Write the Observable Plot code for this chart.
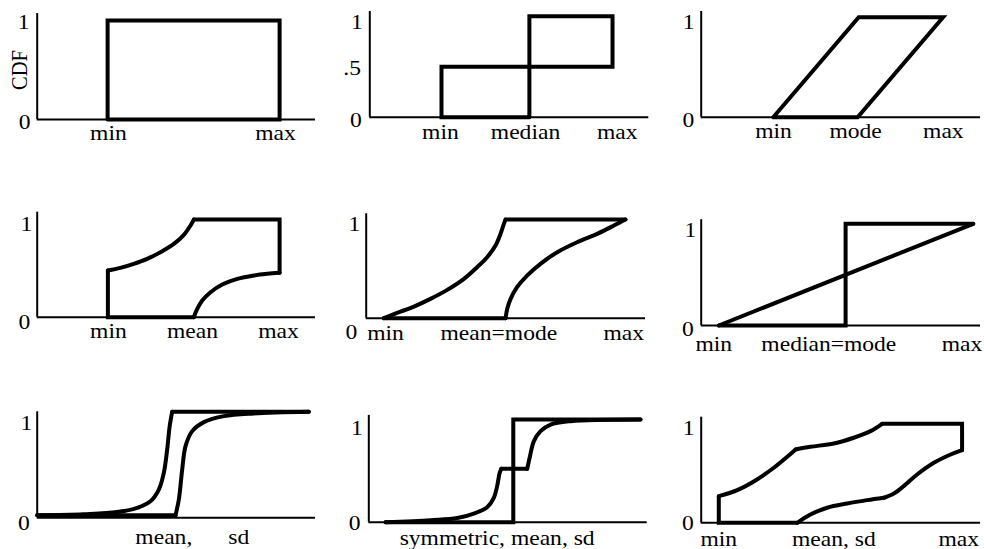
<!DOCTYPE html>
<html><head><meta charset="utf-8">
<script src="https://cdn.jsdelivr.net/npm/d3@7"></script>
<script src="https://cdn.jsdelivr.net/npm/@observablehq/plot@0.6"></script>
<style>
html,body{margin:0;padding:0;background:#fff;}
#chart{position:relative;width:984px;height:549px;overflow:hidden;background:#fff;}
#chart svg{position:absolute;left:0;top:0;}
#chart svg text{font-family:'Liberation Serif','Times New Roman',Times,serif !important;font-size:20.5px !important;}
</style></head><body><div id="chart"></div>
<script>
// ---------- data (x in % of each panel's axis length, y = CDF) ----------
const yTicks01 = [0, 1];
const yLabels01 = ["0", "1"];
const yTicks2 = [0, 0.5, 1];
const yLabels2 = ["0", ".5", "1"];

// Panel 1: min, max
const p1XTicks = [25.6, 85.6];
const p1XLabels = ["min", "max"];
const p1Straight = [[[25.3,0],[25.3,1],[87.1,1],[87.1,0],[25.3,0]]];
const p1Smooth = [];

// Panel 2: min, median, max
const p2XTicks = [25.3, 55.8, 88.7];
const p2XLabels = ["min", "median", "max"];
const p2Straight = [[[57.2,0],[25.7,0],[25.7,0.5],[87.0,0.5],[87.0,1],[57.2,1],[57.2,0]]];
const p2Smooth = [];

// Panel 3: min, mode, max
const p3XTicks = [25.9, 55.3, 86.7];
const p3XLabels = ["min", "mode", "max"];
const p3Straight = [[[25.8,0],[56.4,1],[86.6,1],[56.0,0],[25.8,0]]];
const p3Smooth = [];

// Panel 4: min, mean, max
const p4XTicks = [25.6, 55.8, 86.7];
const p4XLabels = ["min", "mean", "max"];
const p4Straight = [[[56.3,0],[25.4,0],[25.4,0.478]], [[56.3,1],[87.1,1],[87.1,0.454]]];
const p4Upper = [[25.4,0.478],[29.9,0.505],[34.7,0.546],[39.5,0.597],[44.3,0.666],[49.1,0.751],[52.7,0.843],[55.1,0.939],[56.3,1]];
const p4Lower = [[56.3,0],[57.5,0.085],[59.3,0.171],[62.3,0.256],[66.5,0.334],[71.9,0.392],[77.9,0.427],[82.7,0.444],[87.1,0.454]];
const p4Smooth = [p4Upper, p4Lower];

// Panel 5: min, mean=mode, max
const p5XTicks = [6.9, 47.5, 92.2];
const p5XLabels = ["min", "mean=mode", "max"];
const p5Straight = [[[6.3,0],[49.9,0]], [[49.9,1],[92.8,1]]];
const p5Upper = [[6.3,0],[11.1,0.054],[17.1,0.118],[23.0,0.196],[29.0,0.287],[35.0,0.399],[39.7,0.517],[43.3,0.618],[46.3,0.736],[48.1,0.855],[49.3,0.956],[49.9,1]];
const p5Lower = [[49.9,0],[50.5,0.095],[51.7,0.196],[54.0,0.314],[57.6,0.432],[62.4,0.551],[68.4,0.669],[75.5,0.770],[82.7,0.855],[88.7,0.939],[92.8,1]];
const p5Smooth = [p5Upper, p5Lower];

// Panel 6: min, median=mode, max
const p6XTicks = [4.5, 45.7, 93.4];
const p6XLabels = ["min", "median=mode", "max"];
const p6Straight = [[[6.3,0],[51.7,0],[51.7,1],[97.4,1]], [[6.3,0],[97.4,1]]];
const p6Smooth = [];

// Panel 7: mean, sd
const p7XTicks = [45.5, 72.4];
const p7XLabels = ["mean,", "sd"];
const p7Straight = [[[0,0],[49.7,0]], [[48.5,1],[97.6,1]]];
const p7Upper = [[0,0],[16.7,0.01],[28.7,0.03],[35.9,0.071],[40.7,0.135],[43.7,0.248],[45.5,0.41],[46.7,0.635],[47.6,0.861],[48.5,1]];
const p7Lower = [[49.7,0],[50.9,0.152],[52.1,0.442],[53.3,0.668],[55.7,0.813],[59.9,0.9],[67.1,0.958],[77.8,0.984],[97.6,1]];
const p7Smooth = [p7Upper, p7Lower];

// Panel 8: symmetric, mean, sd
const p8XTicks = [46.1];
const p8XLabels = ["symmetric, mean, sd"];
const p8Straight = [[[6.0,0],[51.9,0],[51.9,1],[97.6,1]], [[47.6,0.52],[56.9,0.52]]];
const p8Left = [[6.0,0],[22.2,0.02],[31.8,0.04],[37.7,0.084],[42.5,0.146],[44.9,0.237],[46.1,0.351],[47.0,0.48],[47.6,0.52]];
const p8Right = [[56.9,0.52],[57.9,0.643],[59.3,0.789],[61.7,0.886],[65.3,0.951],[72.5,0.984],[97.6,1]];
const p8Smooth = [p8Left, p8Right];

// Panel 9: min, mean, sd, max
const p9XTicks = [6.3, 47.5, 92.2];
const p9XLabels = ["min", "mean, sd", "max"];
const p9Straight = [[[34.4,0],[6.3,0],[6.3,0.269]], [[64.8,1],[93.4,1],[93.4,0.734]]];
const p9UpperA = [[6.3,0.269],[12.9,0.33],[20.0,0.438],[26.0,0.556],[30.8,0.667],[33.8,0.741]];
const p9UpperB = [[33.8,0.741],[39.1,0.768],[47.5,0.801],[54.6,0.859],[60.6,0.926],[64.8,1]];
const p9LowerA = [[93.4,0.734],[89.3,0.69],[83.3,0.606],[77.3,0.488],[72.5,0.37],[69.0,0.296],[65.4,0.253]];
const p9LowerB = [[65.4,0.253],[59.4,0.229],[52.3,0.195],[45.1,0.152],[39.1,0.084],[34.4,0]];
const p9Smooth = [p9UpperA, p9UpperB, p9LowerA, p9LowerB];

// ---------- layout ----------
const panels = [
  {L:{ox:36.7,ex:315,y1:20,y0:119,top:1.07,labelDy:20,yDx:[-6.7,-7.7],yDy:[9.3,8.3]}, straight:p1Straight, smooth:p1Smooth, xTicks:p1XTicks, xLabels:p1XLabels, yTicks:yTicks01, yLabels:yLabels01, cdf:true},
  {L:{ox:369.3,ex:648.3,y1:15.7,y0:116.7,top:1.047,labelDy:21.6,yDx:[-8,-8.8,-6.9],yDy:[10,7.8,12.6]}, straight:p2Straight, smooth:p2Smooth, xTicks:p2XTicks, xLabels:p2XLabels, yTicks:yTicks2, yLabels:yLabels2},
  {L:{ox:700.7,ex:980,y1:16.7,y0:116.7,top:1.057,labelDy:21,yDx:[-7,-6.7],yDy:[10,11.6]}, straight:p3Straight, smooth:p3Smooth, xTicks:p3XTicks, xLabels:p3XLabels, yTicks:yTicks01, yLabels:yLabels01},
  {L:{ox:36.7,ex:315,y1:219,y0:316.7,top:1.075,labelDy:21,yDx:[-7,-5],yDy:[11.6,11]}, straight:p4Straight, smooth:p4Smooth, xTicks:p4XTicks, xLabels:p4XLabels, yTicks:yTicks01, yLabels:yLabels01},
  {L:{ox:365.7,ex:645,y1:219,y0:317.7,top:1.058,labelDy:21.6,yDx:[-9,-6],yDy:[20.6,11]}, straight:p5Straight, smooth:p5Smooth, xTicks:p5XTicks, xLabels:p5XLabels, yTicks:yTicks01, yLabels:yLabels01},
  {L:{ox:700.7,ex:980,y1:223.3,y0:325,top:1.04,labelDy:25,yDx:[-7.4,-5],yDy:[10,13.4]}, straight:p6Straight, smooth:p6Smooth, xTicks:p6XTicks, xLabels:p6XLabels, yTicks:yTicks01, yLabels:yLabels01},
  {L:{ox:36.7,ex:315,y1:411.3,y0:514.7,top:1.0,axisDy:2.6,labelDy:28.3,yDx:[-7.4,-5],yDy:[14.3,17.7]}, straight:p7Straight, smooth:p7Smooth, xTicks:p7XTicks, xLabels:p7XLabels, yTicks:yTicks01, yLabels:yLabels01},
  {L:{ox:368.3,ex:646.7,y1:419,y0:521.7,top:1.04,labelDy:22.3,yDx:[-8.3,-6],yDy:[7.3,15]}, straight:p8Straight, smooth:p8Smooth, xTicks:p8XTicks, xLabels:p8XLabels, yTicks:yTicks01, yLabels:yLabels01},
  {L:{ox:700.7,ex:980,y1:423.3,y0:522.3,top:1.067,labelDy:22.7,yDx:[-7.4,-6.6],yDy:[6.7,10.7]}, straight:p9Straight, smooth:p9Smooth, xTicks:p9XTicks, xLabels:p9XLabels, yTicks:yTicks01, yLabels:yLabels01}
];

const W = 984, H = 549;
const FS = 20.5, SX = 1.15;
const FONT = "Liberation Serif, Times New Roman, Times, serif";
const host = document.getElementById("chart");
const rows = paths => paths.flatMap((pts, i) => pts.map(([x, y]) => ({x, y, z: i})));

for (const p of panels) {
  const L = p.L;
  const lineOpts = {x: "x", y: "y", z: "z", stroke: "black", strokeWidth: 4, strokeLinejoin: "miter", strokeMiterlimit: 10, strokeLinecap: "round"};
  const marks = [
    Plot.ruleY([0], {stroke: "black", strokeWidth: 2, dy: L.axisDy || 0}),
    Plot.ruleX([0], {y1: 0, y2: L.top, stroke: "black", strokeWidth: 2}),
    Plot.line(rows(p.straight), {...lineOpts, curve: "linear"})
  ];
  if (p.smooth.length) marks.push(Plot.line(rows(p.smooth), {...lineOpts, curve: "catmull-rom"}));
  marks.push(Plot.text(p.xLabels.map((t, i) => ({t, x: p.xTicks[i]})),
    {x: "x", y: 0, text: "t", dy: L.labelDy, lineAnchor: "bottom", textAnchor: "middle", fill: "black", fontSize: FS, fontFamily: FONT}));
  p.yTicks.forEach((v, i) => marks.push(Plot.text([p.yLabels[i]],
    {x: 0, y: v, text: d => d, textAnchor: "end", lineAnchor: "bottom", dx: L.yDx[i], dy: L.yDy[i], fill: "black", fontSize: FS, fontFamily: FONT})));
  if (p.cdf) marks.push(Plot.text(["CDF"],
    {x: 0, y: 0.5, text: d => d, rotate: -90, dx: -17.7, lineAnchor: "middle", textAnchor: "middle", fill: "black", fontSize: FS, fontFamily: FONT}));
  const svg = Plot.plot({
    width: W, height: H,
    marginLeft: L.ox, marginRight: W - L.ex, marginTop: L.y1, marginBottom: H - L.y0,
    x: {domain: [0, 100], axis: null},
    y: {domain: [0, 1], axis: null},
    style: {background: "none", overflow: "visible", fontFamily: FONT, fontSize: FS + "px", color: "black"},
    marks
  });
  svg.querySelectorAll("text").forEach(t => {
    const tr = t.getAttribute("transform");
    if (tr && /^translate\([^)]*\)/.test(tr)) t.setAttribute("transform", tr.replace(/^(translate\([^)]*\))/, `$1 scale(${SX},1)`));
  });
  host.appendChild(svg);
}
</script></body></html>
